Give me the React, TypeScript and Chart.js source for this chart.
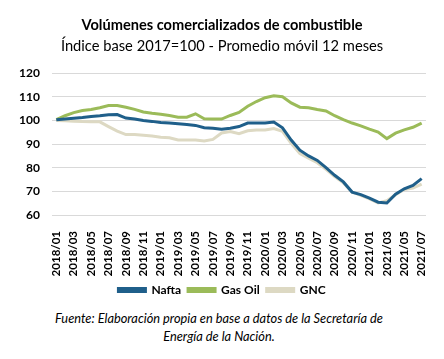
import React, { useEffect, useRef } from "react";
import { Chart, registerables } from "chart.js";

Chart.register(...registerables);

const months: string[] = [
  "2018/01","2018/02","2018/03","2018/04","2018/05","2018/06","2018/07","2018/08","2018/09","2018/10","2018/11","2018/12",
  "2019/01","2019/02","2019/03","2019/04","2019/05","2019/06","2019/07","2019/08","2019/09","2019/10","2019/11","2019/12",
  "2020/01","2020/02","2020/03","2020/04","2020/05","2020/06","2020/07","2020/08","2020/09","2020/10","2020/11","2020/12",
  "2021/01","2021/02","2021/03","2021/04","2021/05","2021/06","2021/07",
];

const nafta: number[] = [
  100.3, 100.6, 100.9, 101.2, 101.7, 102.0, 102.4, 102.5, 101.0, 100.6, 100.0, 99.6,
  99.1, 98.9, 98.6, 98.3, 97.9, 96.9, 96.7, 96.3, 96.7, 97.4, 98.9, 98.9,
  98.9, 99.3, 96.9, 91.7, 87.4, 85.0, 83.1, 80.0, 76.8, 74.0, 69.7, 68.6,
  67.1, 65.4, 65.1, 68.8, 71.1, 72.5, 75.4,
];

const gasOil: number[] = [
  100.3, 102.0, 103.3, 104.2, 104.6, 105.4, 106.3, 106.3, 105.6, 104.7, 103.6, 103.0,
  102.6, 102.1, 101.4, 101.4, 102.8, 100.7, 100.6, 100.6, 102.1, 103.4, 106.0, 108.0,
  109.6, 110.4, 110.0, 107.4, 105.6, 105.4, 104.6, 104.0, 102.0, 100.3, 98.9, 97.7,
  96.3, 95.1, 92.3, 94.6, 96.0, 97.1, 98.9,
];

const gnc: number[] = [
  100.0, 99.9, 99.7, 99.5, 99.4, 99.4, 97.4, 95.5, 94.0, 94.0, 93.7, 93.4,
  92.9, 92.7, 91.7, 91.7, 91.7, 91.3, 92.0, 94.7, 95.3, 94.4, 95.6, 96.0,
  96.0, 96.6, 95.4, 90.3, 86.0, 84.0, 82.1, 79.3, 76.3, 73.6, 69.7, 68.3,
  66.8, 65.1, 66.0, 68.6, 70.8, 71.4, 73.1,
];

const seriesNames: string[] = ["Nafta", "Gas Oil", "GNC"];
const titleText = "Volúmenes comercializados de combustible";
const subtitleText = "Índice base 2017=100 - Promedio móvil 12 meses";
const footerLines: string[] = [
  "Fuente: Elaboración propia en base a datos de la Secretaría de",
  "Energía de la Nación.",
];

const FONT = "Lato, 'Open Sans', sans-serif";

export default function App() {
  const ref = useRef<HTMLCanvasElement | null>(null);

  useEffect(() => {
    document.body.style.margin = "0";
    const ctx = ref.current;
    if (!ctx) return;
    const colors = ["#1f5f8a", "#9bbb59", "#ddd9c3"];
    const data = [nafta, gasOil, gnc];
    const chart = new Chart(ctx, {
      type: "line",
      data: {
        labels: months,
        datasets: seriesNames.map((n, i) => ({
          label: n,
          data: data[i],
          borderColor: colors[i],
          backgroundColor: colors[i],
          borderWidth: 3,
          pointRadius: 0,
          tension: 0,
          fill: false,
        })),
      },
      options: {
        animation: false,
        responsive: false,
        maintainAspectRatio: false,
        layout: { padding: { left: 18, right: 18, top: 6, bottom: 0 } },
        plugins: {
          title: {
            display: true,
            text: titleText,
            color: "#000",
            font: { family: FONT, size: 14.6, weight: "bold" },
            padding: { top: 11, bottom: 3 },
          },
          subtitle: {
            display: true,
            text: subtitleText,
            color: "#000",
            font: { family: FONT, size: 14.7, weight: "normal" },
            padding: { top: 0, bottom: 18 },
          },
          legend: {
            position: "bottom",
            labels: {
              boxWidth: 27,
              boxHeight: 3,
              color: "#000",
              font: { family: FONT, size: 12, weight: "bold" },
              padding: 7,
            },
          },
          tooltip: { enabled: false },
        },
        scales: {
          x: {
            offset: true,
            grid: { display: false },
            border: { display: false },
            afterFit: (scale: any) => {
              scale.height = 62;
            },
            ticks: {
              autoSkip: false,
              maxRotation: 90,
              minRotation: 90,
              color: "#000",
              padding: 8,
              font: { family: FONT, size: 11.5, weight: "bold" },
              callback: (v: any, i: number) => (i % 2 === 0 ? months[i] : ""),
            },
          },
          y: {
            min: 60,
            max: 120,
            border: { display: false },
            grid: { color: "#d9d9d9", lineWidth: 1, drawTicks: false },
            afterFit: (scale: any) => {
              scale.width = 34;
            },
            ticks: {
              stepSize: 10,
              color: "#000",
              padding: 12,
              font: { family: FONT, size: 12, weight: "bold" },
            },
          },
        },
      },
    });
    return () => chart.destroy();
  }, []);

  return (
    <div style={{ position: "relative", width: 444, height: 359, background: "#fff" }}>
      <canvas ref={ref} width={444} height={306} style={{ display: "block" }} />
      <div
        style={{
          position: "absolute",
          left: 0,
          top: 309,
          width: 438,
          textAlign: "center",
          fontFamily: FONT,
          fontStyle: "italic",
          fontSize: 12.8,
          lineHeight: "18px",
          color: "#000",
        }}
      >
        {footerLines.map((l, i) => (
          <div key={i}>{l}</div>
        ))}
      </div>
    </div>
  );
}
